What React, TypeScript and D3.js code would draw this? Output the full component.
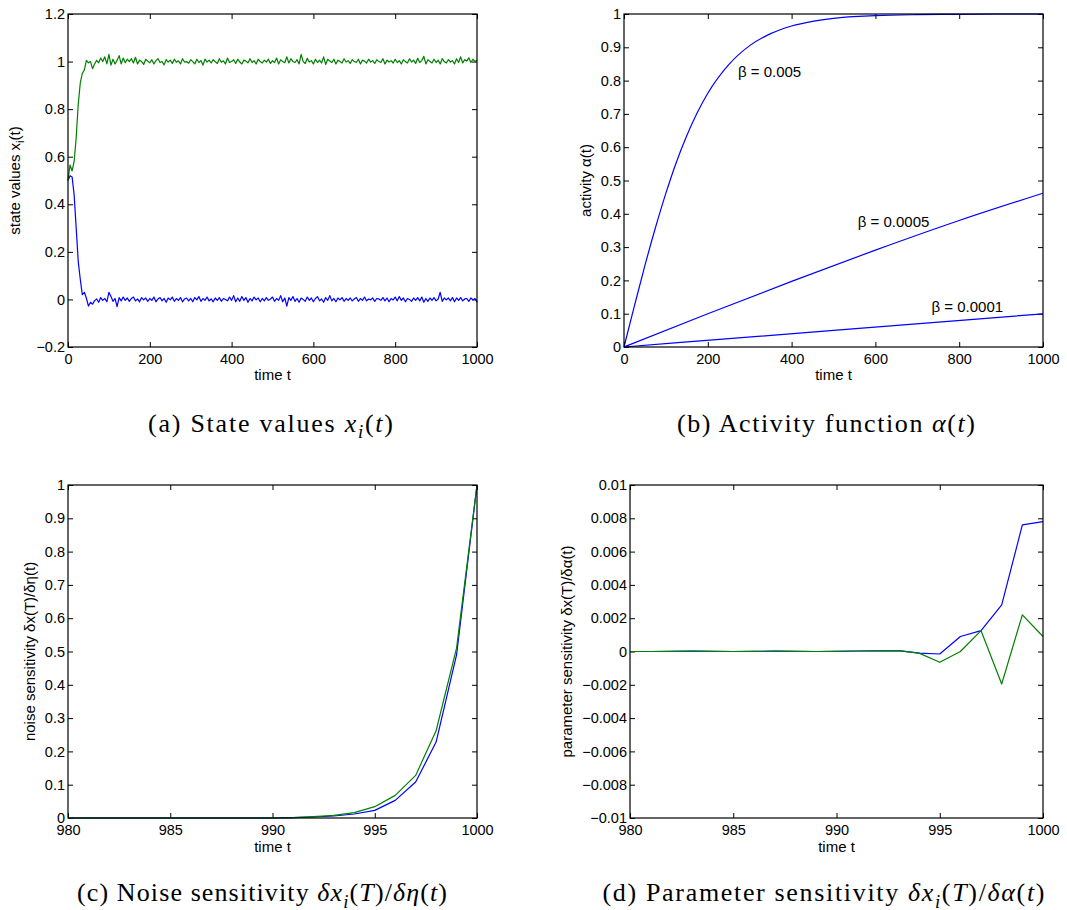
import { useEffect, useRef } from 'react';
import * as d3 from 'd3';

const W = 1067;
const H = 910;
const BLUE = '#0000ff';
const GREEN = '#008000';

// (a) state values x_i(t), every 5 steps
const stateTimes = d3.range(0, 1001, 5);
const stateGreen = [
  0.50, 0.565, 0.54, 0.58, 0.68, 0.82, 0.91, 0.95, 0.965, 1.005,
  0.995, 1.0, 0.97, 0.99, 1.005, 0.995, 1.015, 1.0, 1.02, 0.99,
  1.03, 0.985, 1.01, 0.99, 1.005, 1.025, 0.99, 1.015, 0.995, 1.01,
  1.0, 1.012, 0.994, 1.018, 0.99, 1.006, 1.0, 0.988, 1.01, 1.002,
  0.995, 1.008, 0.99, 1.004, 1.012, 0.996, 1.0, 0.986, 1.008, 0.998,
  1.006, 0.992, 1.01, 0.997, 1.003, 0.99, 1.012, 0.998, 1.0, 0.993,
  1.008, 1.0, 0.99, 1.01, 0.996, 1.004, 0.985, 1.01, 0.998, 1.006,
  0.994, 1.008, 1.0, 0.992, 1.012, 0.997, 1.003, 0.99, 1.015, 0.996,
  1.0, 1.008, 0.992, 1.01, 0.998, 0.99, 1.006, 1.002, 0.995, 1.012,
  0.996, 1.004, 0.99, 1.01, 1.0, 0.994, 1.006, 0.998, 1.01, 0.992,
  1.004, 0.996, 1.015, 0.99, 1.008, 1.0, 0.995, 1.02, 0.994, 1.012,
  1.0, 0.996, 1.008, 0.99, 1.03, 1.0, 0.992, 1.014, 0.998, 1.004,
  0.99, 1.01, 0.996, 1.006, 0.994, 1.02, 0.988, 1.01, 1.002, 0.996,
  1.01, 0.99, 1.006, 1.0, 0.994, 1.012, 0.998, 1.004, 0.992, 1.008,
  1.0, 0.996, 1.01, 0.99, 1.006, 1.002, 0.994, 1.01, 0.998, 1.004,
  0.992, 1.008, 1.0, 0.996, 1.012, 0.99, 1.006, 0.998, 1.004, 0.994,
  1.01, 0.996, 1.004, 0.99, 1.008, 1.0, 0.994, 1.012, 0.998, 1.006,
  0.992, 1.014, 0.996, 1.004, 1.022, 0.99, 1.008, 1.0, 0.994, 1.01,
  0.996, 1.006, 0.99, 1.012, 1.0, 0.994, 1.008, 0.998, 1.004, 0.99,
  1.012, 0.996, 1.02, 0.994, 1.008, 1.002, 1.016, 0.996, 1.01, 1.0,
  1.005,
];
const stateBlue = [
  0.50, 0.52, 0.515, 0.44, 0.30, 0.16, 0.085, 0.02, 0.03, 0.005,
  -0.028, -0.012, -0.02, -0.005, 0.002, -0.012, 0.008, -0.004, 0.004, -0.01,
  0.03, 0.012, -0.008, 0.004, -0.03, 0.008, -0.006, 0.01, -0.004, 0.006,
  -0.008, 0.004, 0.01, -0.006, 0.002, -0.01, 0.008, -0.002, 0.006, -0.008,
  0.004, -0.004, 0.01, -0.01, 0.002, 0.008, -0.006, 0.004, -0.012, 0.006,
  -0.002, 0.01, -0.008, 0.004, -0.004, 0.008, -0.01, 0.002, 0.006, -0.006,
  0.004, -0.01, 0.008, -0.002, 0.012, -0.008, 0.004, -0.004, 0.01, -0.006,
  0.002, -0.01, 0.006, -0.004, 0.008, -0.008, 0.004, 0.0, -0.006, 0.01,
  -0.004, 0.016, -0.01, 0.006, -0.008, 0.012, -0.004, 0.008, -0.012, 0.004,
  -0.006, 0.01, -0.002, 0.006, -0.01, 0.004, -0.006, 0.008, -0.004, 0.002,
  0.01, -0.008, 0.004, -0.004, 0.016, -0.01, 0.006, -0.028, 0.008, -0.004,
  0.012, -0.008, 0.004, -0.012, 0.006, 0.0, -0.008, 0.01, -0.004, 0.006,
  -0.01, 0.004, 0.012, -0.006, 0.002, -0.012, 0.008, -0.004, 0.016, -0.006,
  0.004, -0.01, 0.006, -0.002, 0.008, -0.008, 0.004, -0.004, 0.006, -0.006,
  0.002, 0.008, -0.008, 0.004, -0.004, 0.01, -0.006, 0.002, -0.002, 0.006,
  -0.008, 0.004, 0.002, -0.004, 0.008, -0.006, 0.006, -0.01, 0.004, -0.002,
  0.01, -0.006, 0.012, -0.004, 0.006, -0.01, 0.004, 0.0, -0.008, 0.006,
  -0.004, 0.008, -0.006, 0.01, -0.012, 0.004, -0.008, 0.006, -0.004, 0.008,
  -0.006, 0.002, 0.03, -0.008, 0.006, -0.002, 0.006, -0.006, 0.008, -0.01,
  0.006, -0.004, 0.008, -0.006, 0.002, 0.004, -0.008, 0.006, -0.002, 0.004,
  -0.012,
];

// (b) activity curves for three beta values
const fastTimes = [0, 25, 50, 75, 100, 125, 150, 175, 200, 250, 300, 350, 400, 450, 500, 600, 700, 800, 900, 1000];
const fastActivity = [0, 0.124, 0.245, 0.358, 0.462, 0.555, 0.635, 0.704, 0.762, 0.848, 0.905, 0.941, 0.964, 0.978, 0.987, 0.995, 0.998, 0.999, 1.0, 1.0];
const midTimes = [0, 200, 400, 600, 800, 1000];
const midActivity = [0, 0.0997, 0.197, 0.291, 0.38, 0.462];
const slowTimes = [0, 500, 1000];
const slowActivity = [0, 0.05, 0.0997];
const betaLabels = ['β = 0.005', 'β = 0.0005', 'β = 0.0001'];

// (c) + (d) sensitivities over the last 20 steps
const lastTimes = d3.range(980, 1001);
const noiseBlue = [0, 0, 0, 0, 0, 0, 0, 0, 0, 0, 0, 0.001, 0.003, 0.006, 0.012, 0.023, 0.053, 0.108, 0.228, 0.49, 1.0];
const noiseGreen = [0, 0, 0, 0, 0, 0, 0, 0, 0, 0, 0, 0.001, 0.004, 0.008, 0.016, 0.034, 0.068, 0.128, 0.262, 0.51, 1.0];
const paramBlue = [0, 0, 0.00001, 0.00002, 0.00001, 0, 0.00001, 0.00002, 0.00001, 0, 0.00001, 0.00003, 0.00004, 0.00005, -0.0001, -0.00015, 0.0009, 0.00125, 0.0028, 0.0076, 0.0078];
const paramGreen = [0, 0, 0.00001, 0.00002, 0.00001, 0, 0.00001, 0.00002, 0.00001, 0, 0.00001, 0.00003, 0.00004, 0.00005, -0.0001, -0.00065, 0, 0.00125, -0.00195, 0.0022, 0.0009];

type Part = { text: string; italic?: boolean; sub?: boolean };

const zip = (xs: number[], ys: number[]) => xs.map((x, i) => [x, ys[i]] as [number, number]);

const panels = [
  {
    box: [68, 14, 477, 347],
    xDomain: [0, 1000], yDomain: [-0.2, 1.2],
    xTicks: d3.ticks(0, 1000, 5), yTicks: d3.ticks(-0.2, 1.2, 7),
    yLabelX: 20, xLabelY: 380,
    yLabel: [{ text: 'state values x' }, { text: 'i', sub: true }, { text: '(t)' }] as Part[],
    caption: [{ text: '(a)  State values ' }, { text: 'x', italic: true }, { text: 'i', italic: true, sub: true }, { text: '(' }, { text: 't', italic: true }, { text: ')' }] as Part[],
    captionX: 270.5, captionY: 431.5, captionLen: 245,
    curve: d3.curveLinear,
    series: [
      { data: zip(stateTimes, stateBlue), color: BLUE },
      { data: zip(stateTimes, stateGreen), color: GREEN },
    ],
    notes: [] as { text: string; at: [number, number] }[],
  },
  {
    box: [624, 14, 1043, 347],
    xDomain: [0, 1000], yDomain: [0, 1],
    xTicks: d3.ticks(0, 1000, 5), yTicks: d3.ticks(0, 1, 10),
    yLabelX: 591, xLabelY: 380,
    yLabel: [{ text: 'activity α(t)' }] as Part[],
    caption: [{ text: '(b)  Activity function ' }, { text: 'α', italic: true }, { text: '(' }, { text: 't', italic: true }, { text: ')' }] as Part[],
    captionX: 826, captionY: 431.5, captionLen: 298,
    curve: d3.curveMonotoneX,
    series: [
      { data: zip(fastTimes, fastActivity), color: BLUE },
      { data: zip(midTimes, midActivity), color: BLUE },
      { data: zip(slowTimes, slowActivity), color: BLUE },
    ],
    notes: [
      { text: betaLabels[0], at: [272, 0.812] as [number, number] },
      { text: betaLabels[1], at: [558, 0.36] as [number, number] },
      { text: betaLabels[2], at: [734, 0.105] as [number, number] },
    ],
  },
  {
    box: [68, 485, 477, 818],
    xDomain: [980, 1000], yDomain: [0, 1],
    xTicks: d3.ticks(980, 1000, 4), yTicks: d3.ticks(0, 1, 10),
    yLabelX: 35, xLabelY: 852,
    yLabel: [{ text: 'noise sensitivity δx(T)/δη(t)' }] as Part[],
    caption: [{ text: '(c)  Noise sensitivity ' }, { text: 'δx', italic: true }, { text: 'i', italic: true, sub: true }, { text: '(' }, { text: 'T', italic: true }, { text: ')/' }, { text: 'δη', italic: true }, { text: '(' }, { text: 't', italic: true }, { text: ')' }] as Part[],
    captionX: 262, captionY: 901, captionLen: 370,
    curve: d3.curveLinear,
    series: [
      { data: zip(lastTimes, noiseBlue), color: BLUE },
      { data: zip(lastTimes, noiseGreen), color: GREEN },
    ],
    notes: [] as { text: string; at: [number, number] }[],
  },
  {
    box: [630, 485, 1043, 818],
    xDomain: [980, 1000], yDomain: [-0.01, 0.01],
    xTicks: d3.ticks(980, 1000, 4), yTicks: d3.ticks(-0.01, 0.01, 10),
    yLabelX: 572, xLabelY: 852,
    yLabel: [{ text: 'parameter sensitivity δx(T)/δα(t)' }] as Part[],
    caption: [{ text: '(d)  Parameter sensitivity ' }, { text: 'δx', italic: true }, { text: 'i', italic: true, sub: true }, { text: '(' }, { text: 'T', italic: true }, { text: ')/' }, { text: 'δα', italic: true }, { text: '(' }, { text: 't', italic: true }, { text: ')' }] as Part[],
    captionX: 823.5, captionY: 901, captionLen: 442,
    curve: d3.curveLinear,
    series: [
      { data: zip(lastTimes, paramBlue), color: BLUE },
      { data: zip(lastTimes, paramGreen), color: GREEN },
    ],
    notes: [] as { text: string; at: [number, number] }[],
  },
];

// writes parts into a text node, dropping subscripts a bit
function addParts(sel: any, parts: Part[], size: number) {
  const shift = size * 0.25;
  let down = false;
  parts.forEach(p => {
    const ts = sel.append('tspan').text(p.text);
    if (p.italic) ts.attr('font-style', 'italic');
    if (p.sub) {
      ts.attr('font-size', size * 0.72).attr('dy', shift);
      down = true;
    } else if (down) {
      ts.attr('dy', -shift);
      down = false;
    }
  });
}

const App = () => {
  const svgRef = useRef<SVGSVGElement>(null);

  useEffect(() => {
    if (!svgRef.current) return;
    const svg = d3.select(svgRef.current);
    svg.selectAll('*').remove();

    const fmt = d3.format('~g');
    const sans = "'Liberation Sans', Arial, sans-serif";
    const serif = "'Liberation Serif', 'Times New Roman', serif";

    panels.forEach(p => {
      const [x0, y0, x1, y1] = p.box;
      const x = d3.scaleLinear().domain(p.xDomain).range([x0, x1]);
      const y = d3.scaleLinear().domain(p.yDomain).range([y1, y0]);
      const g = svg.append('g');

      // ticks on all four sides, pointing inward
      const axes = [
        { ax: d3.axisBottom(x).tickValues(p.xTicks).tickFormat(fmt as any).tickPadding(7), t: `translate(0,${y1})` },
        { ax: d3.axisTop(x).tickValues(p.xTicks).tickFormat(() => ''), t: `translate(0,${y0})` },
        { ax: d3.axisLeft(y).tickValues(p.yTicks).tickFormat(fmt as any).tickPadding(3), t: `translate(${x0},0)` },
        { ax: d3.axisRight(y).tickValues(p.yTicks).tickFormat(() => ''), t: `translate(${x1},0)` },
      ];
      axes.forEach(({ ax, t }) => {
        const a = g.append('g').attr('transform', t).call(ax.tickSizeInner(-5).tickSizeOuter(0) as any);
        a.select('.domain').remove();
        a.selectAll('line').attr('stroke', '#000');
        a.selectAll('text')
          .attr('fill', '#000')
          .attr('font-family', sans)
          .attr('font-size', 14.5);
      });

      const line = d3.line<[number, number]>()
        .x(d => x(d[0]))
        .y(d => y(d[1]))
        .curve(p.curve);

      p.series.forEach(s => {
        g.append('path')
          .datum(s.data)
          .attr('fill', 'none')
          .attr('stroke', s.color)
          .attr('stroke-width', 1.2)
          .attr('stroke-linejoin', 'round')
          .attr('d', line);
      });

      p.notes.forEach(n => {
        g.append('text')
          .attr('x', x(n.at[0]))
          .attr('y', y(n.at[1]))
          .attr('font-family', sans)
          .attr('font-size', 15)
          .text(n.text);
      });

      g.append('rect')
        .attr('x', x0).attr('y', y0)
        .attr('width', x1 - x0).attr('height', y1 - y0)
        .attr('fill', 'none')
        .attr('stroke', '#000')
        .attr('stroke-width', 1.2);

      g.append('text')
        .attr('x', (x0 + x1) / 2)
        .attr('y', p.xLabelY)
        .attr('text-anchor', 'middle')
        .attr('font-family', sans)
        .attr('font-size', 15)
        .text('time t');

      const yl = g.append('text')
        .attr('transform', `translate(${p.yLabelX},${(y0 + y1) / 2}) rotate(-90)`)
        .attr('text-anchor', 'middle')
        .attr('font-family', sans)
        .attr('font-size', 15);
      addParts(yl, p.yLabel, 15);

      const cap = g.append('text')
        .attr('x', p.captionX)
        .attr('y', p.captionY)
        .attr('text-anchor', 'middle')
        .attr('font-family', serif)
        .attr('font-size', 26)
        .attr('textLength', p.captionLen)
        .attr('lengthAdjust', 'spacing');
      addParts(cap, p.caption, 26);
    });
  }, []);

  return (
    <svg
      ref={svgRef}
      width={W}
      height={H}
      style={{ position: 'absolute', left: 0, top: 0, background: '#fff' }}
    />
  );
};

export default App;
